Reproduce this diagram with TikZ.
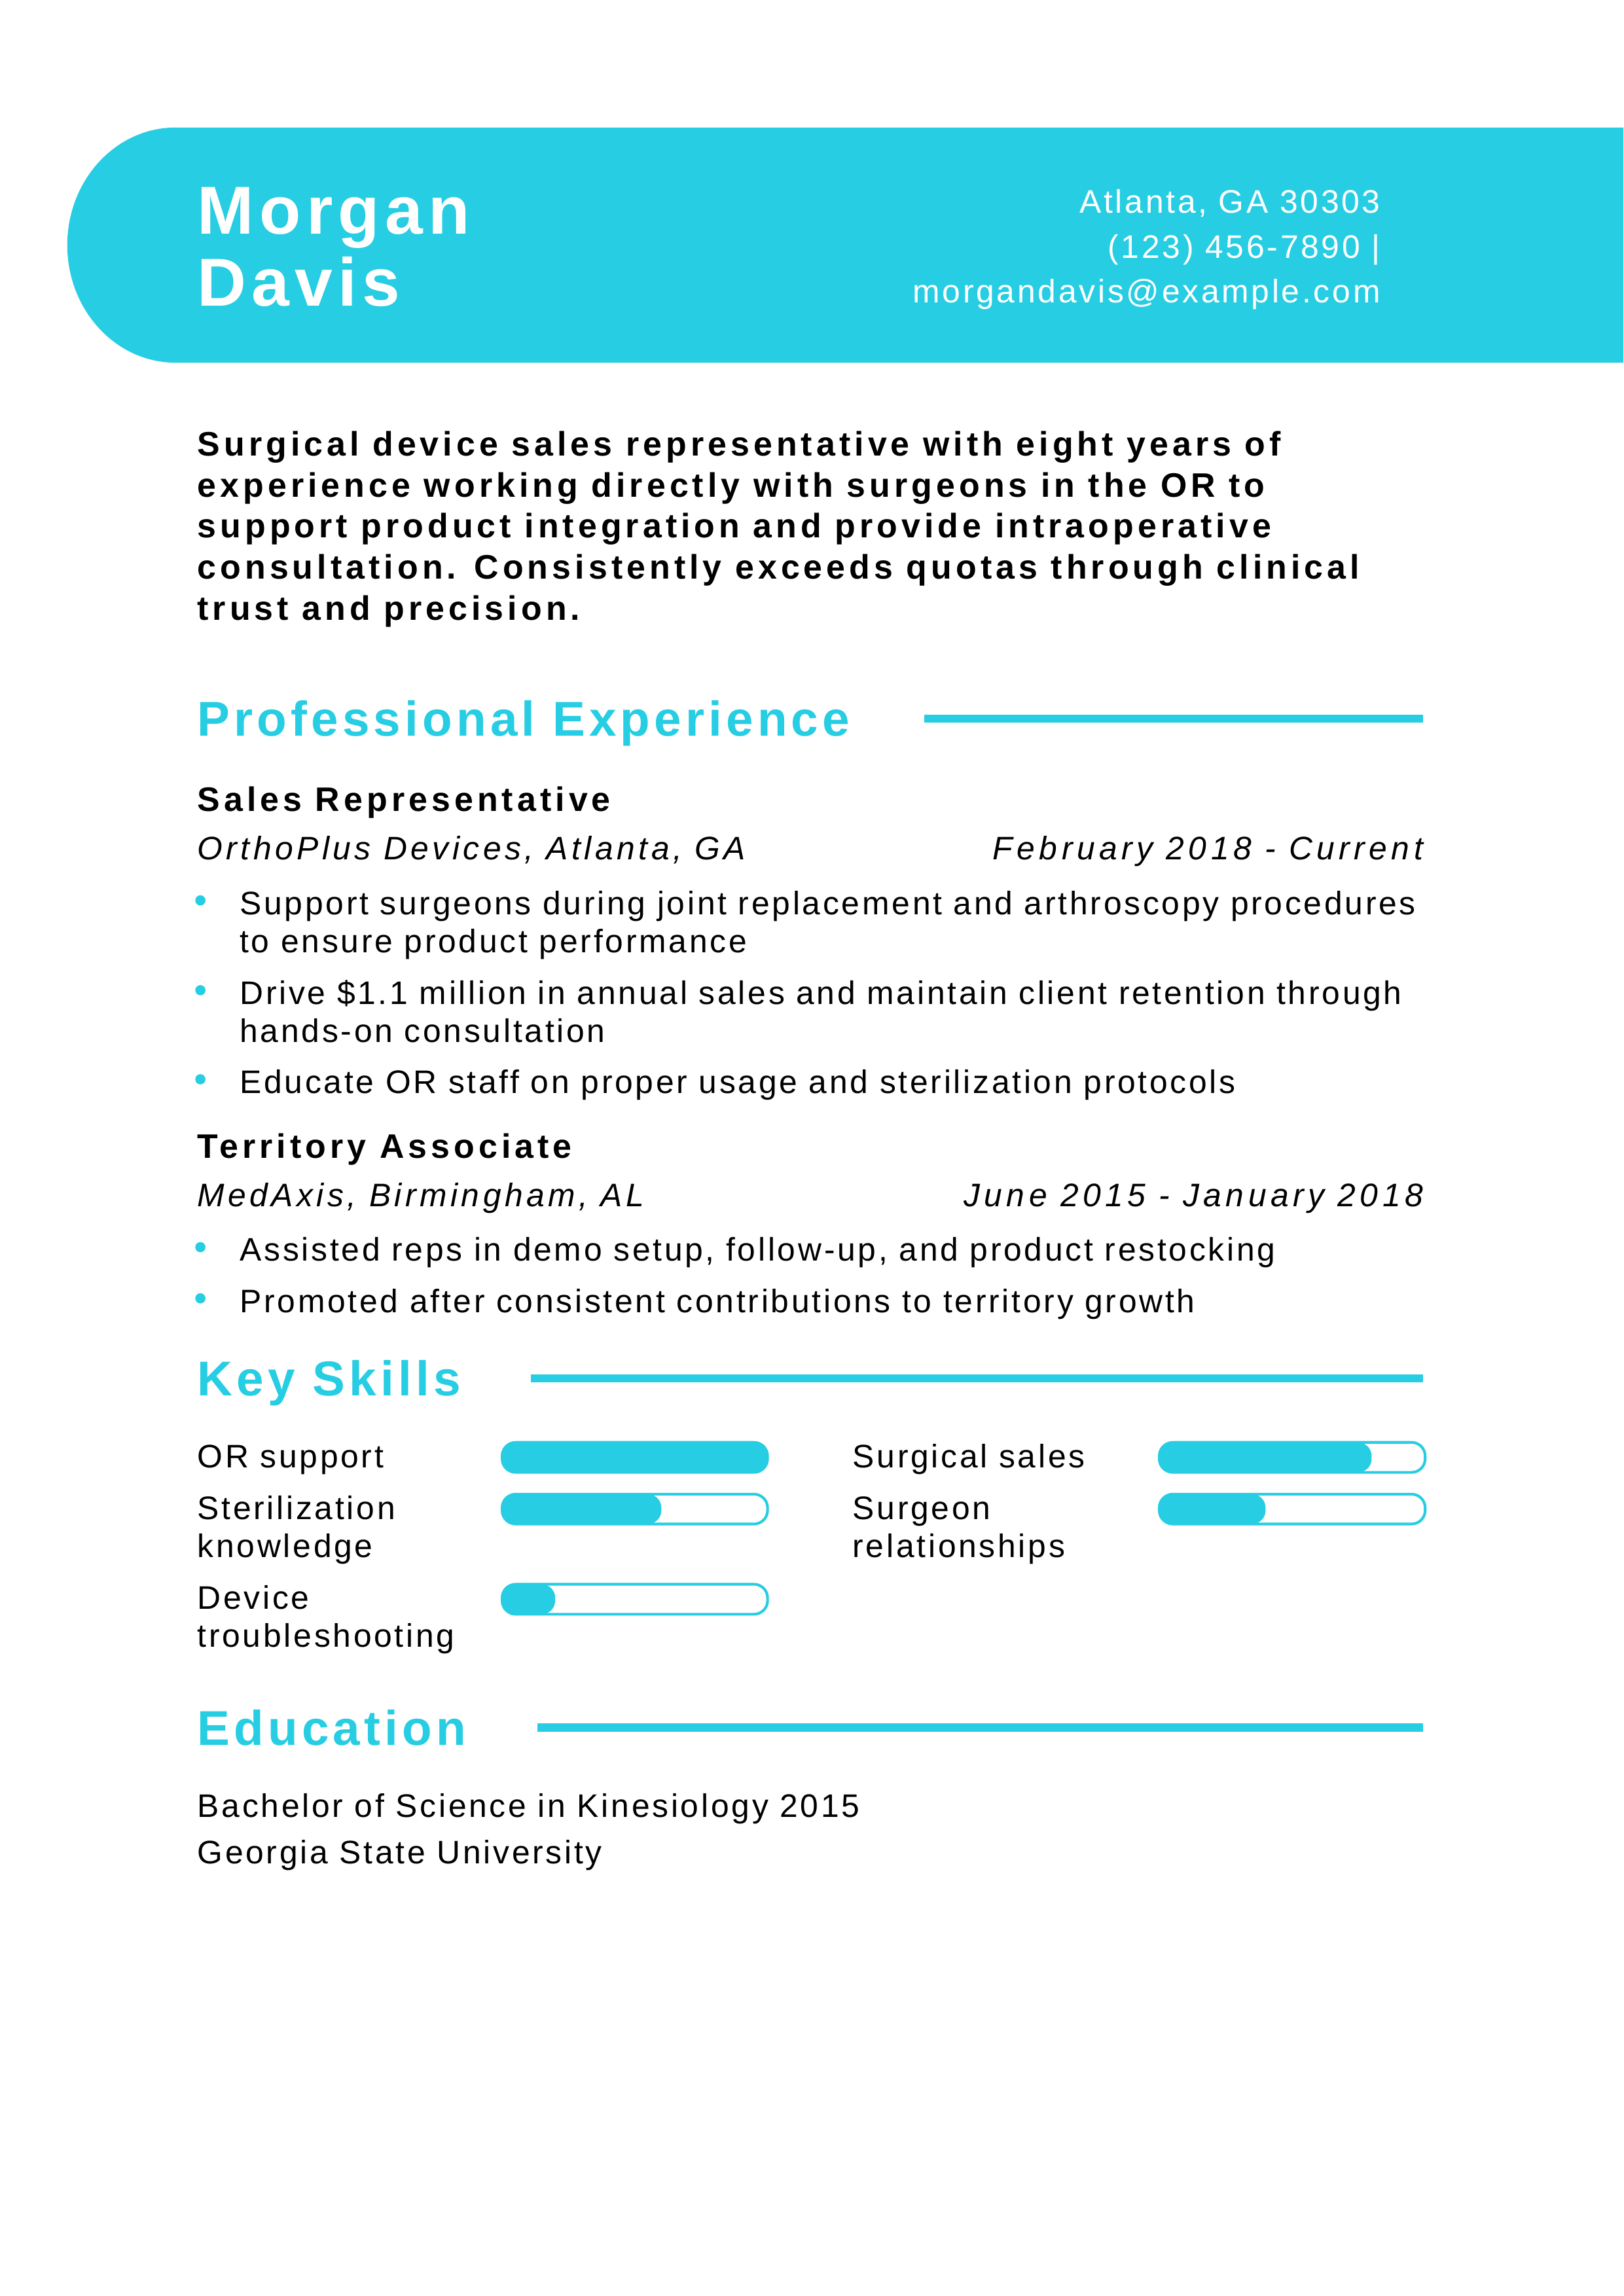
\documentclass[tikz,border=0pt]{standalone}
\usepackage{fontspec}
\setmainfont{Liberation Sans}
\newfontfamily\bodyfont{Liberation Sans}[LetterSpace=7.5]
\newfontfamily\italfont{Liberation Sans}[LetterSpace=11]
\newfontfamily\datefont{Liberation Sans}[LetterSpace=13]
\newfontfamily\boldfont{Liberation Sans}[LetterSpace=11.7]
\newfontfamily\headfont{Liberation Sans}[LetterSpace=8.2]
\newfontfamily\namefont{Liberation Sans}[LetterSpace=8]
\usetikzlibrary{positioning,calc}
\definecolor{brand}{RGB}{39,205,226}

\begin{document}
\begin{tikzpicture}[x=0.0189189cm,y=-0.0189189cm,
                    every node/.style={inner sep=0pt,outer sep=0pt}]
  \tikzstyle{fullname}=[anchor=base west,align=left,text=white,
                    font=\namefont\bfseries\fontsize{25}{26.7}\selectfont]
  \tikzstyle{contact}=[anchor=base east,align=right,text=white,
                    font=\bodyfont\fontsize{12}{16.6}\selectfont]
  \tikzstyle{summary}=[anchor=base west,align=left,
                    font=\boldfont\bfseries\fontsize{12.5}{15.1}\selectfont]
  \tikzstyle{heading}=[anchor=base west,text=brand,
                    font=\headfont\bfseries\fontsize{18}{21}\selectfont]
  \tikzstyle{hrule}=[draw=brand,line width=3pt]
  \tikzstyle{jobtitle}=[anchor=base west,
                    font=\boldfont\bfseries\fontsize{12.5}{15}\selectfont]
  \tikzstyle{company}=[anchor=base west,font=\italfont\itshape\fontsize{12}{14}\selectfont]
  \tikzstyle{dates}=[anchor=base east,font=\datefont\itshape\fontsize{12}{14}\selectfont]
  \tikzstyle{item}=[anchor=base west,align=left,
                    font=\bodyfont\fontsize{12}{14}\selectfont]
  \tikzstyle{bulletdot}=[fill=brand]
  \tikzstyle{skill}=[anchor=base west,align=left,
                    font=\bodyfont\fontsize{12}{14}\selectfont]
  \tikzstyle{skillfill}=[fill=brand,rounded corners=5pt]
  \tikzstyle{skillbar}=[draw=brand,line width=1pt,rounded corners=5pt]
  \tikzstyle{edu}=[anchor=base west,align=left,
                    font=\bodyfont\fontsize{12}{17}\selectfont]

  \useasboundingbox (0,0) rectangle (1110,1570);
  \coordinate (rmargin) at (973,0);

  % header band (multi-line nodes sit on their last line)
  \fill[brand] (1110,87.2) -- (120,87.2)
    arc[start angle=270,end angle=90,x radius=74,y radius=80.4]
    -- (1110,248) -- cycle;
  \node[fullname] (nm)  at (135,209.4)   {Morgan\\Davis};
  \node[contact]  (adr) at (943.7,207.2) {Atlanta, GA 30303\\(123) 456-7890 |\\morgandavis@example.com};

  % summary
  \node[summary] (sum) at (135,423.9) {Surgical device sales representative with eight years of\\
    experience working directly with surgeons in the OR to\\
    support product integration and provide intraoperative\\
    consultation. Consistently exceeds quotas through clinical\\
    trust and precision.};

  % experience
  \node[heading] (pe) at (135,503.3) {Professional Experience};
  \draw[hrule] ($(pe.base east)+(51,-12)$) coordinate (pe-r) -- (pe-r -| rmargin);

  \node[jobtitle] (j1)  at (135,554.7) {Sales Representative};
  \node[company]  (j1c) at (135,587.7) {OrthoPlus Devices, Atlanta, GA};
  \node[dates]    (j1d) at (973,587.7) {February 2018 - Current};
  \node[item] (j1a) at (164,651.3) {Support surgeons during joint replacement and arthroscopy procedures\\to ensure product performance};
  \node[item] (j1b) at (164,712.7) {Drive \$1.1 million in annual sales and maintain client retention through\\hands-on consultation};
  \node[item] (j1e) at (164,747.6) {Educate OR staff on proper usage and sterilization protocols};
  \fill[bulletdot] ($(j1a.base west)+(-27,-35.6)$) circle[radius=3.5];
  \fill[bulletdot] ($(j1b.base west)+(-27,-35.6)$) circle[radius=3.5];
  \fill[bulletdot] ($(j1e.base west)+(-27,-9.6)$) circle[radius=3.5];

  \node[jobtitle] (j2)  at (135,791.8) {Territory Associate};
  \node[company]  (j2c) at (135,825.1) {MedAxis, Birmingham, AL};
  \node[dates]    (j2d) at (973,825.1) {June 2015 - January 2018};
  \node[item] (j2a) at (164,862.4) {Assisted reps in demo setup, follow-up, and product restocking};
  \node[item] (j2b) at (164,897.4) {Promoted after consistent contributions to territory growth};
  \fill[bulletdot] ($(j2a.base west)+(-27,-9.6)$) circle[radius=3.5];
  \fill[bulletdot] ($(j2b.base west)+(-27,-9.6)$) circle[radius=3.5];

  % skills
  \node[heading] (ks) at (135,954.5) {Key Skills};
  \draw[hrule] ($(ks.base east)+(48,-12)$) coordinate (ks-r) -- (ks-r -| rmargin);

  \node[skill] (s1) at (135,1003.8) {OR support};
  \node[skill] (s2) at (583,1003.8) {Surgical sales};
  \node[skill] (s3) at (135,1065)   {Sterilization\\knowledge};
  \node[skill] (s4) at (583,1065)   {Surgeon\\relationships};
  \node[skill] (s5) at (135,1126.2) {Device\\troubleshooting};

  \fill[skillfill] (343.3,986.3)  rectangle (524.8,1006.8);
  \draw[skillbar]  (343.3,986.3)  rectangle (524.8,1006.8);
  \fill[skillfill] (792.6,986.3)  rectangle (937.8,1006.8);
  \draw[skillbar]  (792.6,986.3)  rectangle (974.4,1006.8);
  \fill[skillfill] (343.3,1021.7) rectangle (452.2,1042.1);
  \draw[skillbar]  (343.3,1021.7) rectangle (524.8,1042.1);
  \fill[skillfill] (792.6,1021.7) rectangle (865.3,1042.1);
  \draw[skillbar]  (792.6,1021.7) rectangle (974.4,1042.1);
  \fill[skillfill] (343.3,1083.3) rectangle (379.6,1103.8);
  \draw[skillbar]  (343.3,1083.3) rectangle (524.8,1103.8);

  % education
  \node[heading] (ed) at (135,1193.3) {Education};
  \draw[hrule] ($(ed.base east)+(49,-12)$) coordinate (ed-r) -- (ed-r -| rmargin);
  \node[edu] (deg) at (135,1274.4) {Bachelor of Science in Kinesiology 2015\\Georgia State University};
\end{tikzpicture}
\end{document}
